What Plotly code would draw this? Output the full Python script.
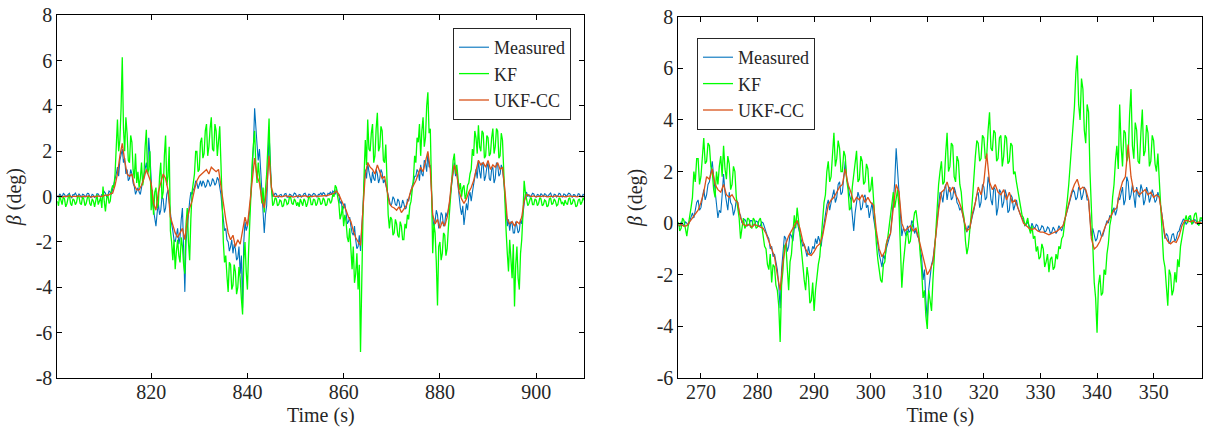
import plotly.graph_objects as go

# ---------------- data: left panel ----------------
# Measured / KF sampled every 0.25 s from 800.5 s; UKF-CC every 0.5 s from 800.5 s
left_t0 = 800.5
left_fine_dt = 0.25
left_ukf_dt = 0.5

left_measured = [
    0.05, -0.03, 0.12, 0.02, -0.02, 0.14, 0.10, -0.01, 0.03, 0.11, 0.15, 0.0, -0.05, 0.09, 0.08, 0.16, 0.02, -0.04, 0.13, 0.04,
    -0.03, 0.11, 0.09, -0.02, 0.04, 0.15, 0.14, 0.01, -0.04, 0.10, 0.07, -0.03, 0.01, 0.13, 0.12, 0.02, -0.02, 0.09, 0.10, 0.22,
    0.15, 0.0, 0.05, 0.25, 0.2, 0.1, 0.3, 0.5, 0.7, 1.0, 1.3, 0.9, 1.6, 1.9, 2.1, 1.5, 1.7, 1.0, 1.2, 0.7,
    0.8, 1.2, 1.0, 0.6, 0.45, 0.1, 0.25, 0.4, 0.2, 0.1, 0.4, 0.7, 0.9, 1.3, 1.5, 1.0, 2.6, 1.8, 0.7, -0.2,
    -0.6, -1.0, -1.3, -0.7, -0.3, -0.8, -0.6, 0.0, -0.1, -0.7, -0.5, 0.1, 0.3, -0.2, -0.8, -1.2, -1.5, -1.9, -2.0, -1.6,
    -1.4, -2.1, -1.8, -1.0, -0.5, -2.3, -4.2, -2.0, -1.3, -0.6, -0.2, 0.2, 0.1, 0.3, 0.4, 0.7, 0.6, 0.35, 0.5, 0.7,
    0.45, 0.7, 0.6, 0.4, 0.5, 0.75, 0.65, 0.45, 0.55, 0.8, 0.7, 0.5, 0.6, 0.85, 0.75, 0.5, 0.1, -0.5, -1.0, -1.5,
    -1.4, -1.9, -2.0, -2.4, -2.2, -1.9, -2.5, -2.1, -2.3, -2.8, -2.7, -2.2, -3.4, -2.6, -4.9, -2.0, -1.1, -1.5, -1.3, -0.9,
    -0.6, 0.2, 1.0, 2.2, 3.9, 2.9, 2.3, 1.6, 2.1, 1.2, 0.2, -0.7, -1.6, -0.8, -0.4, 1.2, 2.8, 1.6, 0.3, 0.0,
    0.05, 0.15, 0.12, -0.01, -0.03, 0.08, 0.10, 0.0, 0.02, 0.12, 0.14, -0.02, -0.02, 0.11, 0.09, 0.0, 0.04, 0.16, 0.13, 0.01,
    -0.04, 0.10, 0.08, -0.02, 0.03, 0.13, 0.15, 0.02, -0.01, 0.11, 0.10, 0.0, 0.05, 0.14, 0.12, 0.01, -0.03, 0.10, 0.09, 0.17,
    0.06, 0.18, 0.14, 0.03, 0.02, 0.15, 0.11, 0.22, 0.08, 0.25, 0.2, 0.1, 0.35, 0.05, 0.1, -0.3, -0.2, -0.6, -0.45, -0.3,
    -0.7, -1.2, -1.1, -0.9, -1.3, -1.6, -1.7, -1.3, -1.9, -2.3, -2.2, -1.7, -2.4, -1.6, -0.5, 0.6, 1.2, 0.8, 1.5, 1.1,
    0.9, 0.6, 1.1, 0.8, 0.7, 1.2, 1.0, 0.6, 0.8, 1.2, 1.05, 0.6, 0.75, 0.5, 0.3, 0.0, -0.1, -0.4, -0.3, 0.0,
    -0.1, -0.35, -0.4, -0.1, -0.2, -0.5, -0.45, -0.15, -0.3, -0.55, -0.5, -0.1, -0.2, 0.1, 0.2, 0.5, 0.6, 0.9, 0.9, 1.2,
    1.1, 0.7, 1.4, 1.0, 0.9, 1.6, 1.5, 1.1, 1.9, 1.3, 1.4, 0.3, -0.9, -1.3, -1.1, -0.6, -0.8, -1.4, -1.2, -0.7,
    -0.8, -1.3, -1.2, -0.7, -0.9, -0.6, -0.3, 0.2, 0.7, 1.2, 1.5, 0.9, 1.2, 0.5, -0.2, -0.5, -0.8, -0.4, -1.25, -0.7,
    -0.3, -0.6, 0.0, 0.2, -0.2, 0.2, 0.5, 0.9, 1.2, 0.8, 1.6, 1.1, 0.8, 1.5, 1.4, 0.7, 0.9, 1.3, 1.5, 0.8,
    0.7, 1.2, 1.3, 0.6, 0.8, 1.5, 1.4, 0.9, 1.0, 1.4, 1.2, 0.7, 0.2, -0.6, -1.3, -1.0, -1.5, -1.1, -1.2, -1.6,
    -1.6, -1.1, -1.3, -1.6, -1.5, -1.0, -1.2, -0.7, -0.3, 0.1, 0.2, 0.0, 0.1, -0.02, 0.05, 0.15, 0.12, 0.0, -0.02, 0.1,
    0.08, -0.02, 0.14, 0.04, 0.01, 0.13, 0.10, -0.01, 0.05, 0.12, 0.16, 0.02, -0.03, 0.11, 0.09, -0.02, 0.03, 0.15, 0.12, 0.0,
    -0.02, 0.12, 0.1, 0.0, 0.06, 0.15, 0.13, 0.01, -0.04, 0.09, 0.08, -0.01, 0.02, 0.13, 0.11, 0.0, 0.0, 0.1, 0.07, 0.03,
]

left_kf = [
    -0.2, -0.4, 0.05, -0.15, -0.35, 0.0, -0.1, -0.45, -0.3, -0.05, 0.1, -0.3, -0.4, -0.1, -0.15, -0.35, -0.25, 0.05, 0.0, -0.3,
    -0.35, 0.0, -0.1, -0.4, -0.3, -0.05, 0.05, -0.3, -0.4, -0.1, -0.2, -0.45, -0.1, 0.1, -0.35, -0.15, -0.05, -0.5, 0.45, -0.2,
    -0.65, -0.1, 0.1, -0.3, -0.2, 0.3, 0.5, 0.4, 1.0, 2.2, 3.4, 2.0, 2.5, 3.9, 6.15, 3.0, 2.0, 3.5, 2.8, 1.6,
    1.5, 2.7, 2.4, 1.2, 0.8, 1.9, 0.6, 1.1, 0.4, 0.8, 1.5, 0.5, 0.9, 2.2, 2.95, 1.0, 1.2, 2.0, -0.6, 0.3,
    -0.8, 0.2, 0.4, -0.5, -0.3, 0.9, 1.5, -0.1, 0.2, 1.8, 2.7, 0.5, 0.9, 2.2, -1.5, -2.0, -2.8, -1.9, -3.2, -2.4,
    -1.9, -2.6, -2.9, -1.8, -2.2, -3.0, -3.4, -1.2, -0.5, -2.0, -2.8, -1.0, 0.2, 0.6, 1.0, 2.0, 2.0, 1.1, 1.2, 2.4,
    2.6, 1.7, 1.9, 2.9, 3.2, 1.8, 2.2, 3.0, 3.5, 2.1, 2.0, 3.2, 2.9, 1.8, 2.3, 3.1, 1.5, -0.5, -2.0, -2.9,
    -2.6, -3.5, -4.2, -2.9, -3.0, -4.1, -3.9, -3.0, -3.3, -4.3, -4.0, -3.1, -3.6, -4.5, -5.2, -2.8, -2.0, -3.3, -4.1, -2.4,
    -1.0, 0.5, 1.5, 2.3, 2.9, 1.4, 0.6, 1.5, 1.0, 0.2, -0.3, 0.4, -0.7, 0.3, 1.0, 2.2, 3.45, 1.2, 0.2, -0.4,
    -0.3, -0.05, -0.1, -0.4, -0.35, -0.15, -0.2, -0.45, -0.4, -0.1, -0.15, -0.35, -0.3, 0.0, -0.05, -0.3, -0.35, -0.1, -0.2, -0.4,
    -0.25, -0.45, -0.1, -0.3, -0.4, -0.1, -0.2, -0.45, -0.3, 0.0, -0.05, -0.35, -0.35, -0.1, -0.15, -0.4, -0.3, -0.05, -0.1, -0.35,
    -0.3, -0.05, -0.15, -0.4, -0.35, -0.1, -0.1, -0.3, -0.2, 0.1, 0.0, 0.5, 0.4, 0.0, -0.3, -1.0, -0.8, -0.4, -1.3, -0.8,
    -1.1, -1.8, -2.0, -1.4, -2.6, -3.2, -2.2, -3.8, -3.4, -2.5, -4.1, -3.0, -6.85, -3.5, -1.0, 1.0, 2.5, 1.4, 3.4, 2.1,
    2.0, 2.8, 3.2, 1.5, 1.8, 3.0, 3.7, 2.0, 2.2, 3.1, 2.9, 1.6, 1.5, 2.3, 0.3, -0.8, -1.4, -0.9, -1.0, -1.7,
    -1.6, -1.0, -1.2, -1.7, -1.8, -1.1, -1.3, -1.9, -1.9, -1.2, -1.4, -0.8, -1.0, -0.4, -0.2, 0.3, 0.8, 1.8, 1.5, 2.6,
    2.4, 3.2, 1.8, 2.9, 3.5, 2.2, 2.6, 4.0, 4.6, 2.8, 3.0, 0.5, -2.5, -1.2, -1.6, -2.9, -4.8, -2.2, -2.0, -2.8,
    -2.5, -1.6, -1.7, -2.6, -2.3, -1.4, -0.6, 0.2, 0.9, 1.6, 1.9, 1.0, 1.4, 0.8, 0.3, 0.6, 0.0, 0.4, 0.5, -0.1,
    0.1, 0.5, 0.6, 1.0, 1.2, 2.1, 1.8, 2.9, 2.6, 1.9, 3.15, 2.2, 2.0, 2.9, 2.8, 1.7, 1.8, 2.7, 2.6, 1.8,
    1.9, 2.6, 3.0, 1.9, 2.2, 3.0, 2.9, 1.7, 1.8, 2.8, 2.5, 1.2, -0.5, -1.5, -2.5, -3.3, -1.9, -2.9, -3.6, -2.1,
    -4.85, -3.0, -2.2, -3.6, -4.1, -2.5, -1.9, -0.8, 0.7, 0.2, -0.1, -0.4, -0.3, -0.1, -0.05, -0.35, -0.35, -0.1, -0.15, -0.4,
    -0.3, -0.05, -0.1, -0.4, -0.35, -0.15, -0.2, -0.45, -0.4, -0.1, -0.05, -0.35, -0.3, -0.1, -0.2, -0.4, -0.35, -0.05, -0.1, -0.3,
    -0.25, -0.4, -0.15, -0.3, -0.35, -0.1, -0.05, -0.35, -0.3, -0.1, -0.2, -0.45, -0.4, -0.15, -0.1, -0.35, -0.25, -0.05, -0.15, -0.35,
]

left_ukf = [
    0.0, 0.03, -0.02, 0.02, 0.0, 0.04, -0.01, 0.02, 0.0, 0.03,
    -0.01, 0.02, 0.0, 0.03, -0.02, 0.01, 0.0, 0.03, 0.0, 0.02,
    0.08, 0.05, 0.12, 0.15, 0.5, 1.0, 1.8, 2.35, 1.6, 1.0,
    0.9, 1.0, 0.5, 0.3, 0.3, 0.5, 0.8, 1.2, 0.9, 0.6,
    -0.3, -0.6, 0.2, 0.6, 1.0, 0.8, 0.3, -0.9, -1.3, -1.6,
    -1.8, -1.6, -1.4, -1.9, -1.0, -0.5, -0.2, 0.3, 0.7, 0.9,
    1.0, 1.1, 1.2, 1.0, 1.3, 1.2, 1.1, 1.2, 0.4, -0.4,
    -1.0, -1.6, -1.9, -1.7, -2.2, -1.9, -2.1, -1.5, -0.9, -1.3,
    -0.2, 0.8, 1.7, 0.9, 0.6, -0.1, -0.5, 0.3, 1.8, 0.4,
    0.02, 0.0, 0.03, -0.01, 0.02, 0.04, 0.0, 0.02, -0.02, 0.01,
    0.03, 0.0, 0.02, 0.04, -0.01, 0.02, 0.0, 0.03, 0.01, 0.02,
    0.0, 0.03, 0.05, 0.08, 0.1, 0.15, 0.25, 0.1, -0.15, -0.35,
    -0.6, -0.9, -1.1, -1.5, -1.8, -2.0, -2.15, -0.6, 1.0, 1.5,
    1.3, 1.2, 1.0, 1.4, 1.1, 0.8, 0.9, 0.2, -0.3, -0.45,
    -0.5, -0.6, -0.45, -0.7, -0.55, -0.4, -0.1, 0.3, 0.5, 0.7,
    1.0, 1.3, 1.1, 1.6, 2.0, 1.2, -0.8, -1.2, -1.0, -1.4,
    -1.1, -1.3, -0.9, -0.2, 0.8, 1.4, 1.0, 0.2, -0.1, -0.3,
    -0.1, 0.2, 0.4, 0.7, 1.1, 1.6, 1.4, 1.5, 1.3, 1.6,
    1.2, 1.4, 1.3, 1.5, 1.2, 1.3, 0.3, -1.0, -1.2, -1.1,
    -1.3, -1.1, -1.2, -0.9, -0.2, 0.1, 0.05, 0.0, 0.03, -0.01,
    0.02, 0.0, 0.03, 0.01, -0.01, 0.02, 0.0, 0.03, 0.01, 0.0,
    0.02, -0.01, 0.01, 0.03, 0.0, 0.02, -0.01, 0.02, 0.0, 0.01,
]

# ---------------- data: right panel ----------------
# Measured / KF sampled every 0.25 s from 266 s; UKF-CC every 0.5 s from 266 s
right_t0 = 266.0
right_fine_dt = 0.25
right_ukf_dt = 0.5

right_measured = [
    -0.05, -0.15, 0.05, -0.05, -0.1, 0.05, 0.0, -0.1, 0.1, 0.25, 0.4, 0.2, 0.5, 0.8, 0.9, 0.5, 0.6, 1.0, 1.3, 0.9,
    1.1, 1.5, 1.6, 2.0, 2.4, 1.8, 1.2, 0.6, 0.2, 0.5, 0.4, 1.1, 1.9, 1.2, 0.8, 0.5, 1.2, 0.8, 0.7, 0.3,
    0.5, 0.9, 0.8, 0.4, 0.3, 0.0, 0.1, 0.15, 0.05, -0.1, -0.05, 0.1, 0.1, -0.1, -0.05, 0.08, 0.05, -0.12, -0.1, 0.05,
    0.0, -0.2, -0.3, -0.5, -0.6, -1.0, -0.9, -1.3, -1.2, -1.5, -1.8, -2.4, -3.3, -1.8, -1.0, -0.5, -0.6, -1.1, -0.9, -0.4,
    -0.5, -0.7, -0.2, 0.0, 0.1, -0.2, -0.4, -0.7, -0.9, -0.8, -1.1, -1.3, -0.9, -1.2, -1.15, -0.9, -1.0, -0.6, -0.8, -0.5,
    -0.7, -0.9, -0.4, 0.0, 0.3, 0.7, 0.9, 0.5, 0.8, 1.1, 1.3, 0.8, 1.0, 1.5, 1.6, 1.1, 1.2, 1.8, 2.4, 1.7,
    1.5, 1.1, 0.9, 0.3, -0.3, 0.4, 0.8, 1.2, 1.0, 0.5, 0.6, 1.0, 1.1, 0.6, 0.7, 0.2, 0.5, 0.8, 0.2, -0.1,
    -0.5, -0.8, -1.2, -1.5, -1.7, -1.2, -1.4, -1.0, -0.8, -0.6, -0.4, 0.2, 0.8, 1.6, 2.9, 2.0, 1.5, 0.4, -0.5, -0.2,
    -0.3, -0.5, -0.1, -0.35, -0.3, 0.1, 0.0, -0.4, -0.25, -0.5, -0.6, -1.0, -1.3, -2.2, -1.8, -3.0, -3.75, -2.6, -2.0, -1.6,
    -1.4, -1.0, -0.5, 0.1, 0.6, 1.2, 1.1, 0.8, 1.3, 1.5, 0.9, 1.3, 1.4, 0.9, 1.0, 1.4, 1.2, 0.8, 0.7, 0.5,
    0.6, 0.3, 0.0, -0.2, -0.35, -0.1, -0.2, 0.1, 0.3, 0.5, 0.8, 1.1, 1.2, 0.6, 0.8, 1.5, 1.4, 0.9, 1.0, 1.8,
    1.5, 0.9, 0.7, 1.4, 1.3, 0.3, 0.6, 1.3, 1.2, 0.6, 0.8, 1.3, 1.1, 0.4, 0.5, 1.1, 1.0, 0.5, 0.7, 0.9,
    0.6, 0.4, 0.3, 0.2, 0.1, -0.1, -0.05, 0.05, -0.15, -0.25, 0.0, -0.15, -0.2, -0.05, -0.1, -0.3, -0.25, -0.1, -0.15, -0.35,
    -0.3, -0.15, -0.2, -0.4, -0.35, -0.15, -0.25, -0.4, -0.3, -0.1, -0.2, -0.3, -0.1, 0.1, 0.3, 0.5, 0.7, 0.9, 1.0, 1.3,
    1.2, 0.9, 1.0, 1.4, 1.3, 0.9, 1.1, 1.4, 1.25, 0.9, 0.9, 0.2, -0.5, -0.2, -0.4, -0.7, -0.6, -0.3, -0.3, -0.5,
    -0.5, -0.3, -0.2, 0.1, 0.0, 0.3, 0.2, 0.5, 0.6, 0.3, 0.5, 1.0, 0.9, 1.2, 1.4, 0.7, 0.9, 1.8, 1.6, 0.9,
    1.1, 1.5, 0.9, 0.6, 1.4, 1.1, 1.0, 1.5, 1.3, 0.7, 0.9, 1.4, 1.2, 0.8, 1.0, 1.3, 1.1, 0.8, 0.9, 1.2,
    1.0, 0.7, 0.3, -0.2, -0.6, -0.4, -0.5, -0.8, -0.7, -0.45, -0.4, -0.7, -0.6, -0.35, -0.3, -0.1, 0.0, 0.15, 0.1, -0.05,
    0.05, 0.2, 0.15, -0.02, 0.0, 0.14, 0.1, -0.05, -0.05, 0.12, 0.1, 0.0,
]

right_kf = [
    0.05, -0.3, -0.2, 0.2, 0.1, -0.3, -0.5, -0.1, 0.2, 0.6, 1.0, 2.0, 1.6, 2.5, 2.5, 1.5, 1.8, 2.8, 3.3, 2.3,
    2.4, 3.1, 3.0, 2.2, 2.0, 1.3, 1.0, 2.0, 1.5, 2.2, 2.6, 1.8, 3.0, 2.1, 1.7, 2.6, 2.3, 1.3, 1.5, 2.2,
    2.0, 1.0, 0.6, 0.2, -0.6, -0.1, 0.2, -0.2, -0.1, 0.2, 0.15, -0.15, -0.2, 0.2, 0.1, -0.2, -0.15, 0.1, 0.2, -0.1,
    -0.5, -0.9, -1.0, -1.6, -1.8, -1.2, -2.3, -1.6, -1.7, -2.4, -2.6, -3.2, -4.6, -2.4, -1.8, -0.9, -0.8, -1.8, -2.6, -1.5,
    -1.2, -0.4, 0.3, -0.2, 0.6, 0.1, -0.4, -1.0, -1.6, -2.2, -2.6, -1.7, -2.1, -3.1, -3.0, -2.3, -3.4, -2.6, -2.0, -1.6,
    -1.3, -0.5, 0.1, 0.8, 1.1, 2.0, 2.4, 1.6, 1.8, 2.8, 3.5, 2.2, 2.5, 3.2, 2.9, 2.0, 2.0, 2.8, 2.6, 1.7,
    1.3, 0.5, 0.6, 1.4, 1.9, 2.4, 2.8, 1.6, 1.7, 2.6, 2.4, 1.5, 1.6, 2.3, 2.1, 1.2, 1.3, 1.8, 0.8, 0.1,
    -0.8, -1.4, -1.8, -2.2, -2.3, -1.6, -1.5, -0.8, -0.6, -0.1, 0.3, 0.9, 1.2, 0.6, 1.0, 1.3, 0.6, -0.8, -2.5, -1.6,
    -1.0, -0.5, -0.3, -0.8, -0.7, -0.2, 0.0, 0.4, 0.5, 0.0, -0.4, -1.2, -1.8, -2.9, -2.6, -3.6, -4.1, -2.6, -3.0, -3.4,
    -2.2, -1.2, -0.3, 0.7, 1.5, 2.0, 2.4, 1.5, 1.6, 2.7, 3.5, 2.0, 2.2, 3.1, 3.0, 1.8, 1.6, 2.6, 2.4, 1.5,
    1.2, 0.5, 0.2, -0.7, -1.2, -0.9, -0.4, 0.3, 1.0, 1.9, 2.6, 3.2, 3.1, 2.4, 2.5, 3.4, 3.3, 2.5, 2.6, 3.6,
    4.3, 2.9, 2.8, 3.6, 3.5, 2.4, 2.5, 3.3, 3.4, 2.2, 2.6, 3.4, 3.3, 2.3, 2.4, 3.1, 3.0, 1.9, 2.0, 1.6,
    1.3, 0.9, 0.6, 0.3, 0.2, -0.1, 0.0, 0.2, -0.2, -0.4, -0.1, -0.6, -0.5, -1.1, -0.9, -1.4, -1.3, -0.8, -1.0, -1.7,
    -1.5, -1.2, -1.9, -1.4, -1.3, -1.8, -1.7, -1.2, -1.4, -0.9, -1.0, -0.6, -0.5, -0.1, 0.3, 0.9, 1.5, 2.2, 3.0, 3.8,
    4.5, 5.8, 6.5, 4.6, 4.0, 5.6, 5.2, 3.6, 3.1, 4.6, 4.3, 2.0, 0.5, -1.5, -2.3, -2.9, -4.25, -2.4, -2.0, -2.8,
    -2.7, -1.8, -2.0, -1.2, -0.8, -0.1, 0.2, 1.0, 1.5, 2.4, 3.0, 2.1, 4.6, 3.0, 2.2, 3.6, 3.5, 2.4, 2.6, 4.2,
    5.2, 3.0, 2.5, 3.9, 3.6, 2.4, 2.3, 3.5, 4.4, 2.6, 2.8, 3.8, 3.5, 2.2, 2.4, 3.4, 3.2, 2.3, 2.0, 2.7,
    1.6, 0.6, -0.8, -1.4, -1.7, -2.6, -3.2, -1.8, -2.0, -2.8, -2.6, -1.9, -2.3, -1.4, -1.7, -0.9, -0.5, -0.1, 0.1, 0.3,
    0.0, 0.25, 0.3, -0.05, 0.1, 0.35, 0.4, 0.0, -0.1, 0.2, 0.2, 0.0,
]

right_ukf = [
    -0.1, -0.05, -0.12, -0.1, 0.05, 0.2, 0.35, 0.5, 0.8, 1.2,
    1.8, 1.7, 2.1, 1.5, 1.3, 1.2, 1.5, 1.1, 1.0, 1.1,
    0.9, 0.8, 0.2, -0.05, -0.1, -0.05, -0.15, -0.05, -0.1, -0.15,
    -0.2, -0.4, -0.7, -1.0, -1.3, -2.0, -2.6, -1.5, -0.8, -0.5,
    -0.3, -0.1, 0.1, -0.2, -0.7, -1.0, -1.2, -1.25, -1.1, -0.9,
    -0.8, -0.5, 0.1, 0.7, 0.9, 1.0, 1.2, 1.4, 1.5, 2.1,
    1.5, 1.2, 0.8, 1.0, 0.9, 1.1, 0.8, 1.0, 0.8, 0.7,
    -0.3, -1.0, -1.3, -1.1, -0.6, -0.4, 0.6, 1.5, 1.2, 0.0,
    -0.3, -0.2, -0.1, -0.3, -0.2, -0.6, -1.1, -1.5, -2.0, -1.8,
    -1.5, -0.5, 0.5, 1.2, 1.3, 1.6, 1.2, 1.4, 1.1, 0.9,
    0.6, 0.1, -0.3, -0.2, 0.4, 0.8, 1.4, 1.1, 1.6, 2.7,
    1.6, 1.3, 1.5, 1.2, 1.1, 1.3, 0.9, 1.2, 0.8, 0.9,
    0.6, 0.3, 0.0, -0.1, -0.2, -0.25, -0.2, -0.3, -0.35, -0.35,
    -0.4, -0.45, -0.4, -0.35, -0.3, -0.2, -0.1, 0.3, 0.8, 1.2,
    1.5, 1.7, 1.3, 1.4, 1.3, 0.9, -0.6, -1.0, -0.9, -0.7,
    -0.4, -0.1, 0.1, 0.3, 0.5, 0.6, 1.2, 1.6, 1.8, 3.05,
    1.8, 1.2, 1.3, 1.1, 1.2, 1.3, 1.1, 1.2, 1.0, 1.1,
    1.0, 0.3, -0.5, -0.7, -0.8, -0.7, -0.75, -0.5, -0.1, 0.1,
    0.1, 0.05, 0.1, 0.0, 0.05, 0.0,
]

series_names = ["Measured", "KF", "UKF-CC"]
left_xticks = [820, 840, 860, 880, 900]
left_yticks = [-8, -6, -4, -2, 0, 2, 4, 6, 8]
right_xticks = [270, 280, 290, 300, 310, 320, 330, 340, 350]
right_yticks = [-6, -4, -2, 0, 2, 4, 6, 8]

# ---------------- styling ----------------
W, H = 1207, 435
colors = ["#0072BD", "#00FF00", "#D95319"]
FONT = "'Liberation Serif', 'Times New Roman', serif"
INK = "#262626"


def grid(t0, dt, n):
    return [t0 + dt * i for i in range(n)]


left_series = [
    (grid(left_t0, left_fine_dt, len(left_measured)), left_measured),
    (grid(left_t0, left_fine_dt, len(left_kf)), left_kf),
    (grid(left_t0, left_ukf_dt, len(left_ukf)), left_ukf),
]
right_series = [
    (grid(right_t0, right_fine_dt, len(right_measured)), right_measured),
    (grid(right_t0, right_fine_dt, len(right_kf)), right_kf),
    (grid(right_t0, right_ukf_dt, len(right_ukf)), right_ukf),
]
widths = [1.1, 1.3, 1.3]

fig = go.Figure()
for name, (tt, vals), col, w in zip(series_names, left_series, colors, widths):
    fig.add_trace(go.Scatter(x=tt, y=vals, mode="lines", name=name,
                             line=dict(color=col, width=w),
                             xaxis="x", yaxis="y", legend="legend"))
for name, (tt, vals), col, w in zip(series_names, right_series, colors, widths):
    fig.add_trace(go.Scatter(x=tt, y=vals, mode="lines", name=name,
                             line=dict(color=col, width=w),
                             xaxis="x2", yaxis="y2", legend="legend2"))


def px_x(p):
    return p / W


def px_y(p):
    return 1 - p / H


def labels(vals):
    return [str(v) for v in vals]


axis_common = dict(showline=True, linecolor="black", linewidth=1, mirror="ticks",
                   ticks="inside", ticklen=5, tickcolor="black", tickwidth=1,
                   showgrid=False, zeroline=False, automargin=False,
                   tickfont=dict(family=FONT, size=20, color=INK))
title_font = dict(family=FONT, size=20, color=INK)
legend_common = dict(bgcolor="white", bordercolor=INK, borderwidth=1,
                     font=dict(family=FONT, size=18, color=INK),
                     itemwidth=30, tracegroupgap=0, traceorder="normal")

fig.update_layout(
    width=W, height=H,
    margin=dict(l=0, r=0, t=0, b=0, autoexpand=False),
    paper_bgcolor="white", plot_bgcolor="white",
    font=dict(family=FONT, size=20, color=INK),
    xaxis=dict(domain=[px_x(57.3), px_x(584.3)], range=[800.5, 910.0],
               tickvals=left_xticks, ticktext=labels(left_xticks), ticklabelstandoff=-4,
               title=dict(text="Time (s)", standoff=5, font=title_font),
               anchor="y", **axis_common),
    yaxis=dict(domain=[px_y(378.0), px_y(15.3)], range=[-8, 8],
               tickvals=left_yticks, ticktext=labels(left_yticks), ticklabelstandoff=0,
               title=dict(text="<i>β</i> (deg)", standoff=8, font=title_font),
               anchor="x", **axis_common),
    xaxis2=dict(domain=[px_x(678.3), px_x(1202.3)], range=[266.0, 358.6],
                tickvals=right_xticks, ticktext=labels(right_xticks), ticklabelstandoff=-4,
                title=dict(text="Time (s)", standoff=5, font=title_font),
                anchor="y2", **axis_common),
    yaxis2=dict(domain=[px_y(378.0), px_y(16.7)], range=[-6, 8],
                tickvals=right_yticks, ticktext=labels(right_yticks), ticklabelstandoff=0,
                title=dict(text="<i>β</i> (deg)", standoff=8, font=title_font),
                anchor="x2", **axis_common),
    legend=dict(x=px_x(571), y=px_y(28), xanchor="right", yanchor="top", **legend_common),
    legend2=dict(x=px_x(697), y=px_y(38), xanchor="left", yanchor="top", **legend_common),
    showlegend=True,
)

fig.write_html(
    "out.html",
    config={"displayModeBar": False},
    post_script="document.body.style.margin='0px';document.body.style.overflow='hidden';",
)
